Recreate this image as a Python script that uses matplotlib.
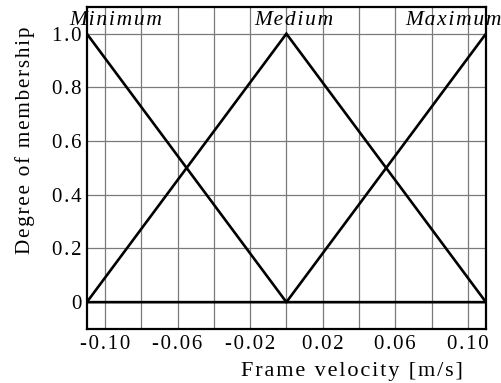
import matplotlib
matplotlib.use("Agg")
import matplotlib.pyplot as plt
import numpy as np

# Fuzzy sets for frame velocity (triangular membership functions)
velocity = [-0.11, 0.0, 0.11]
mu_minimum = [1.0, 0.0, 0.0]
mu_medium = [0.0, 1.0, 0.0]
mu_maximum = [0.0, 0.0, 1.0]
set_names = ["Minimum", "Medium", "Maximum"]
set_label_x = [-0.094, 0.004, 0.092]

x_ticks = [-0.10, -0.06, -0.02, 0.02, 0.06, 0.10]
x_tick_labels = ["-0.10", "-0.06", "-0.02", "0.02", "0.06", "0.10"]
y_ticks = [0.0, 0.2, 0.4, 0.6, 0.8, 1.0]
y_tick_labels = ["0", "0.2", "0.4", "0.6", "0.8", "1.0"]
x_grid = np.arange(-0.10, 0.1001, 0.02)

plt.rcParams["font.family"] = ["Liberation Serif", "DejaVu Serif"]

HAIR = "\u200a"


def spaced(s):
    """Loosen letter spacing with hair spaces between characters."""
    return HAIR.join(s)


fig = plt.figure(figsize=(5.02, 3.83), dpi=100)
ax = fig.add_axes([0.173, 0.141, 0.795, 0.841])

for g in x_grid:
    ax.axvline(g, color="#7a7a7a", lw=0.9, zorder=1)
for g in y_ticks:
    ax.axhline(g, color="#7a7a7a", lw=0.9, zorder=1)

for mu in (mu_minimum, mu_medium, mu_maximum):
    ax.plot(velocity, mu, color="black", lw=1.9, zorder=3, solid_joinstyle="miter")

ax.set_xlim(-0.11, 0.11)
ax.set_ylim(-0.1, 1.1)
ax.set_xticks(x_ticks)
ax.set_xticklabels([spaced(t) for t in x_tick_labels])
ax.set_yticks(y_ticks)
ax.set_yticklabels([spaced(t) for t in y_tick_labels])
ax.tick_params(length=0, labelsize=15, pad=4)
for s in ax.spines.values():
    s.set_linewidth(1.6)

for name, xpos in zip(set_names, set_label_x):
    ax.text(xpos, 1.05, spaced(name), ha="center", va="center", fontsize=15.5,
            style="italic", zorder=4, clip_on=False)

fig.text(0.05, 0.633, spaced("Degree of membership"), rotation=90,
         ha="center", va="center", fontsize=15.2)
fig.text(0.702, 0.004, spaced("Frame velocity [m/s]"), ha="center",
         va="bottom", fontsize=16)

fig.savefig("out.png", dpi=100)
